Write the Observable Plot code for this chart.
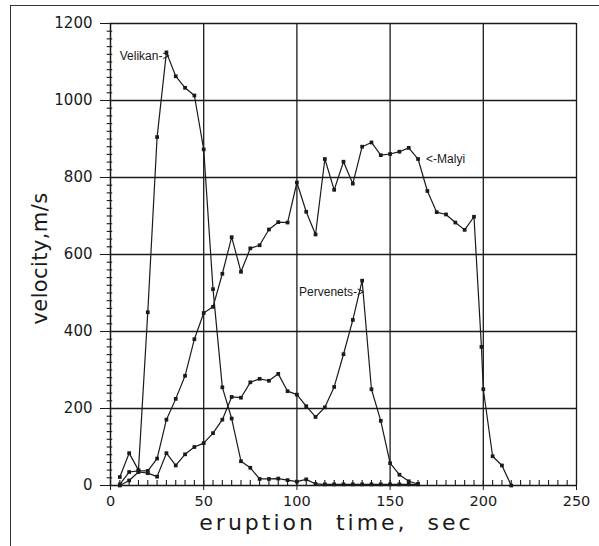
<!DOCTYPE html>
<html>
<head>
<meta charset="utf-8">
<script src="https://cdn.jsdelivr.net/npm/d3@7"></script>
<script src="https://cdn.jsdelivr.net/npm/@observablehq/plot@0.6"></script>
<style>
  html, body { margin: 0; padding: 0; background: #fff; }
  #wrap { position: relative; width: 599px; height: 546px; overflow: hidden; }
  #border { position: absolute; left: 10px; top: 5px; width: 600px; height: 560px;
            border-left: 1.5px solid #333; border-top: 1.5px solid #333; pointer-events: none; }
</style>
</head>
<body>
<div id="wrap"><div id="border"></div></div>
<script>
// ---- data ----
const velikanTime = [5,10,15,20,25,30,35,40,45,50,55,60,65,70,75,80,85,90,95,100,105,110,115,120,125,130,135,140,145,150,155,160,165];
const velikanVel  = [22,84,40,450,905,1125,1063,1033,1013,873,510,255,174,63,46,17,17,18,14,10,16,4,3,3,3,3,3,3,3,3,3,3,3];

const malyiTime = [5,10,15,20,25,30,35,40,45,50,55,60,65,70,75,80,85,90,95,100,105,110,115,120,125,130,135,140,145,150,155,160,165,170,175,180,185,190,195,199,200,205,210,215];
const malyiVel  = [3,35,38,38,70,171,225,285,380,448,464,550,645,555,616,624,665,684,683,787,711,652,848,768,841,784,880,891,858,861,867,877,848,765,710,704,683,664,698,360,250,76,52,0];

const perveTime = [5,10,15,20,25,30,35,40,45,50,55,60,65,70,75,80,85,90,95,100,105,110,115,120,125,130,135,140,145,150,155,160,165];
const perveVel  = [0,13,35,32,23,84,52,81,100,110,136,171,230,228,268,277,272,290,245,236,206,178,203,256,341,430,532,250,168,58,28,11,4];

const xTicks = [0,50,100,150,200,250];
const yTicks = [0,200,400,600,800,1000,1200];
const xMinor = d3.range(0, 251, 5);
const yMinor = d3.range(0, 1201, 20);

const labelText   = ["Velikan->", "<-Malyi", "Pervenets->"];
const labelTime   = [30, 165, 135];
const labelVel    = [1125, 848, 532];
const labelAnchor = ["end", "start", "end"];

const xLabel = "eruption  time,  sec";
const yLabel = "velocity,m/s";

const series = [
  {name: "Velikan", t: velikanTime, v: velikanVel},
  {name: "Malyi", t: malyiTime, v: malyiVel},
  {name: "Pervenets", t: perveTime, v: perveVel}
];
const rows = series.flatMap(s => s.t.map((t, i) => ({series: s.name, time: t, vel: s.v[i]})));
const labels = labelText.map((l, i) => ({text: l, time: labelTime[i], vel: labelVel[i], anchor: labelAnchor[i]}));
const labelOffsets = [{dx: 3, dy: 4}, {dx: 8, dy: 0}, {dx: 2, dy: 11}];

const ink = "#1a1a1a";
const font = "DejaVu Sans, sans-serif";

const chart = Plot.plot({
  width: 599,
  height: 546,
  marginLeft: 110,
  marginRight: 23,
  marginTop: 23,
  marginBottom: 61,
  x: {domain: [0, 250]},
  y: {domain: [0, 1200]},
  style: {background: "transparent", fontFamily: font, color: ink},
  marks: [
    // grid and frame
    Plot.ruleX(xTicks.filter(d => d > 0), {stroke: ink, strokeWidth: 1.3}),
    Plot.ruleY(yTicks.filter(d => d > 0), {stroke: ink, strokeWidth: 1.3}),
    Plot.ruleX([0], {stroke: ink, strokeWidth: 1.5}),
    Plot.ruleY([0], {stroke: ink, strokeWidth: 1.5}),
    // minor ticks
    Plot.ruleX(xMinor, {y1: 0, y2: 13, stroke: ink, strokeWidth: 1.1}),
    Plot.ruleY(yMinor, {x1: -1.8, x2: 1.2, stroke: ink, strokeWidth: 1.1}),
    // axes
    Plot.axisX({ticks: xTicks, tickSize: 5, tickPadding: 5, fontSize: 14.5, label: null, stroke: ink, fill: ink, tickFormat: d => String(d)}),
    Plot.axisY({ticks: yTicks, tickSize: 10, tickPadding: 8, fontSize: 15, label: null, stroke: ink, fill: ink, tickFormat: d => String(d)}),
    // lines and markers
    Plot.line(rows, {x: "time", y: "vel", z: "series", stroke: ink, strokeWidth: 1.2}),
    Plot.dot(rows, {x: "time", y: "vel", symbol: "square", r: 2.1, fill: ink, stroke: null}),
    // series labels
    ...labels.map((d, i) => Plot.text([d], {x: "time", y: "vel", text: "text", textAnchor: d.anchor,
      fontSize: 12, fontFamily: "Liberation Sans Narrow, Liberation Sans, sans-serif", fill: ink,
      dx: labelOffsets[i].dx, dy: labelOffsets[i].dy})),
    // axis titles
    Plot.text([xLabel], {frameAnchor: "bottom", dx: -7, dy: 44, fontSize: 22, fill: ink}),
    Plot.text([yLabel], {frameAnchor: "left", fontSize: 21, fill: ink})
  ]
});

const yScale = chart.scale("y");
const xScale = chart.scale("x");
d3.select(chart).selectAll("text").filter(function() { return this.textContent === xLabel; })
  .attr("letter-spacing", "3px").style("white-space", "pre").attr("xml:space", "preserve");
d3.select(chart).selectAll("text").filter(function() { return this.textContent === yLabel; })
  .attr("letter-spacing", "0.4px")
  .attr("x", null).attr("y", null).attr("dx", null).attr("dy", "0.32em")
  .attr("text-anchor", "middle")
  .attr("transform", `translate(${xScale.apply(0) - 70},${yScale.apply(600) + 4}) rotate(-90)`);

document.getElementById("wrap").prepend(chart);
</script>
</body>
</html>
